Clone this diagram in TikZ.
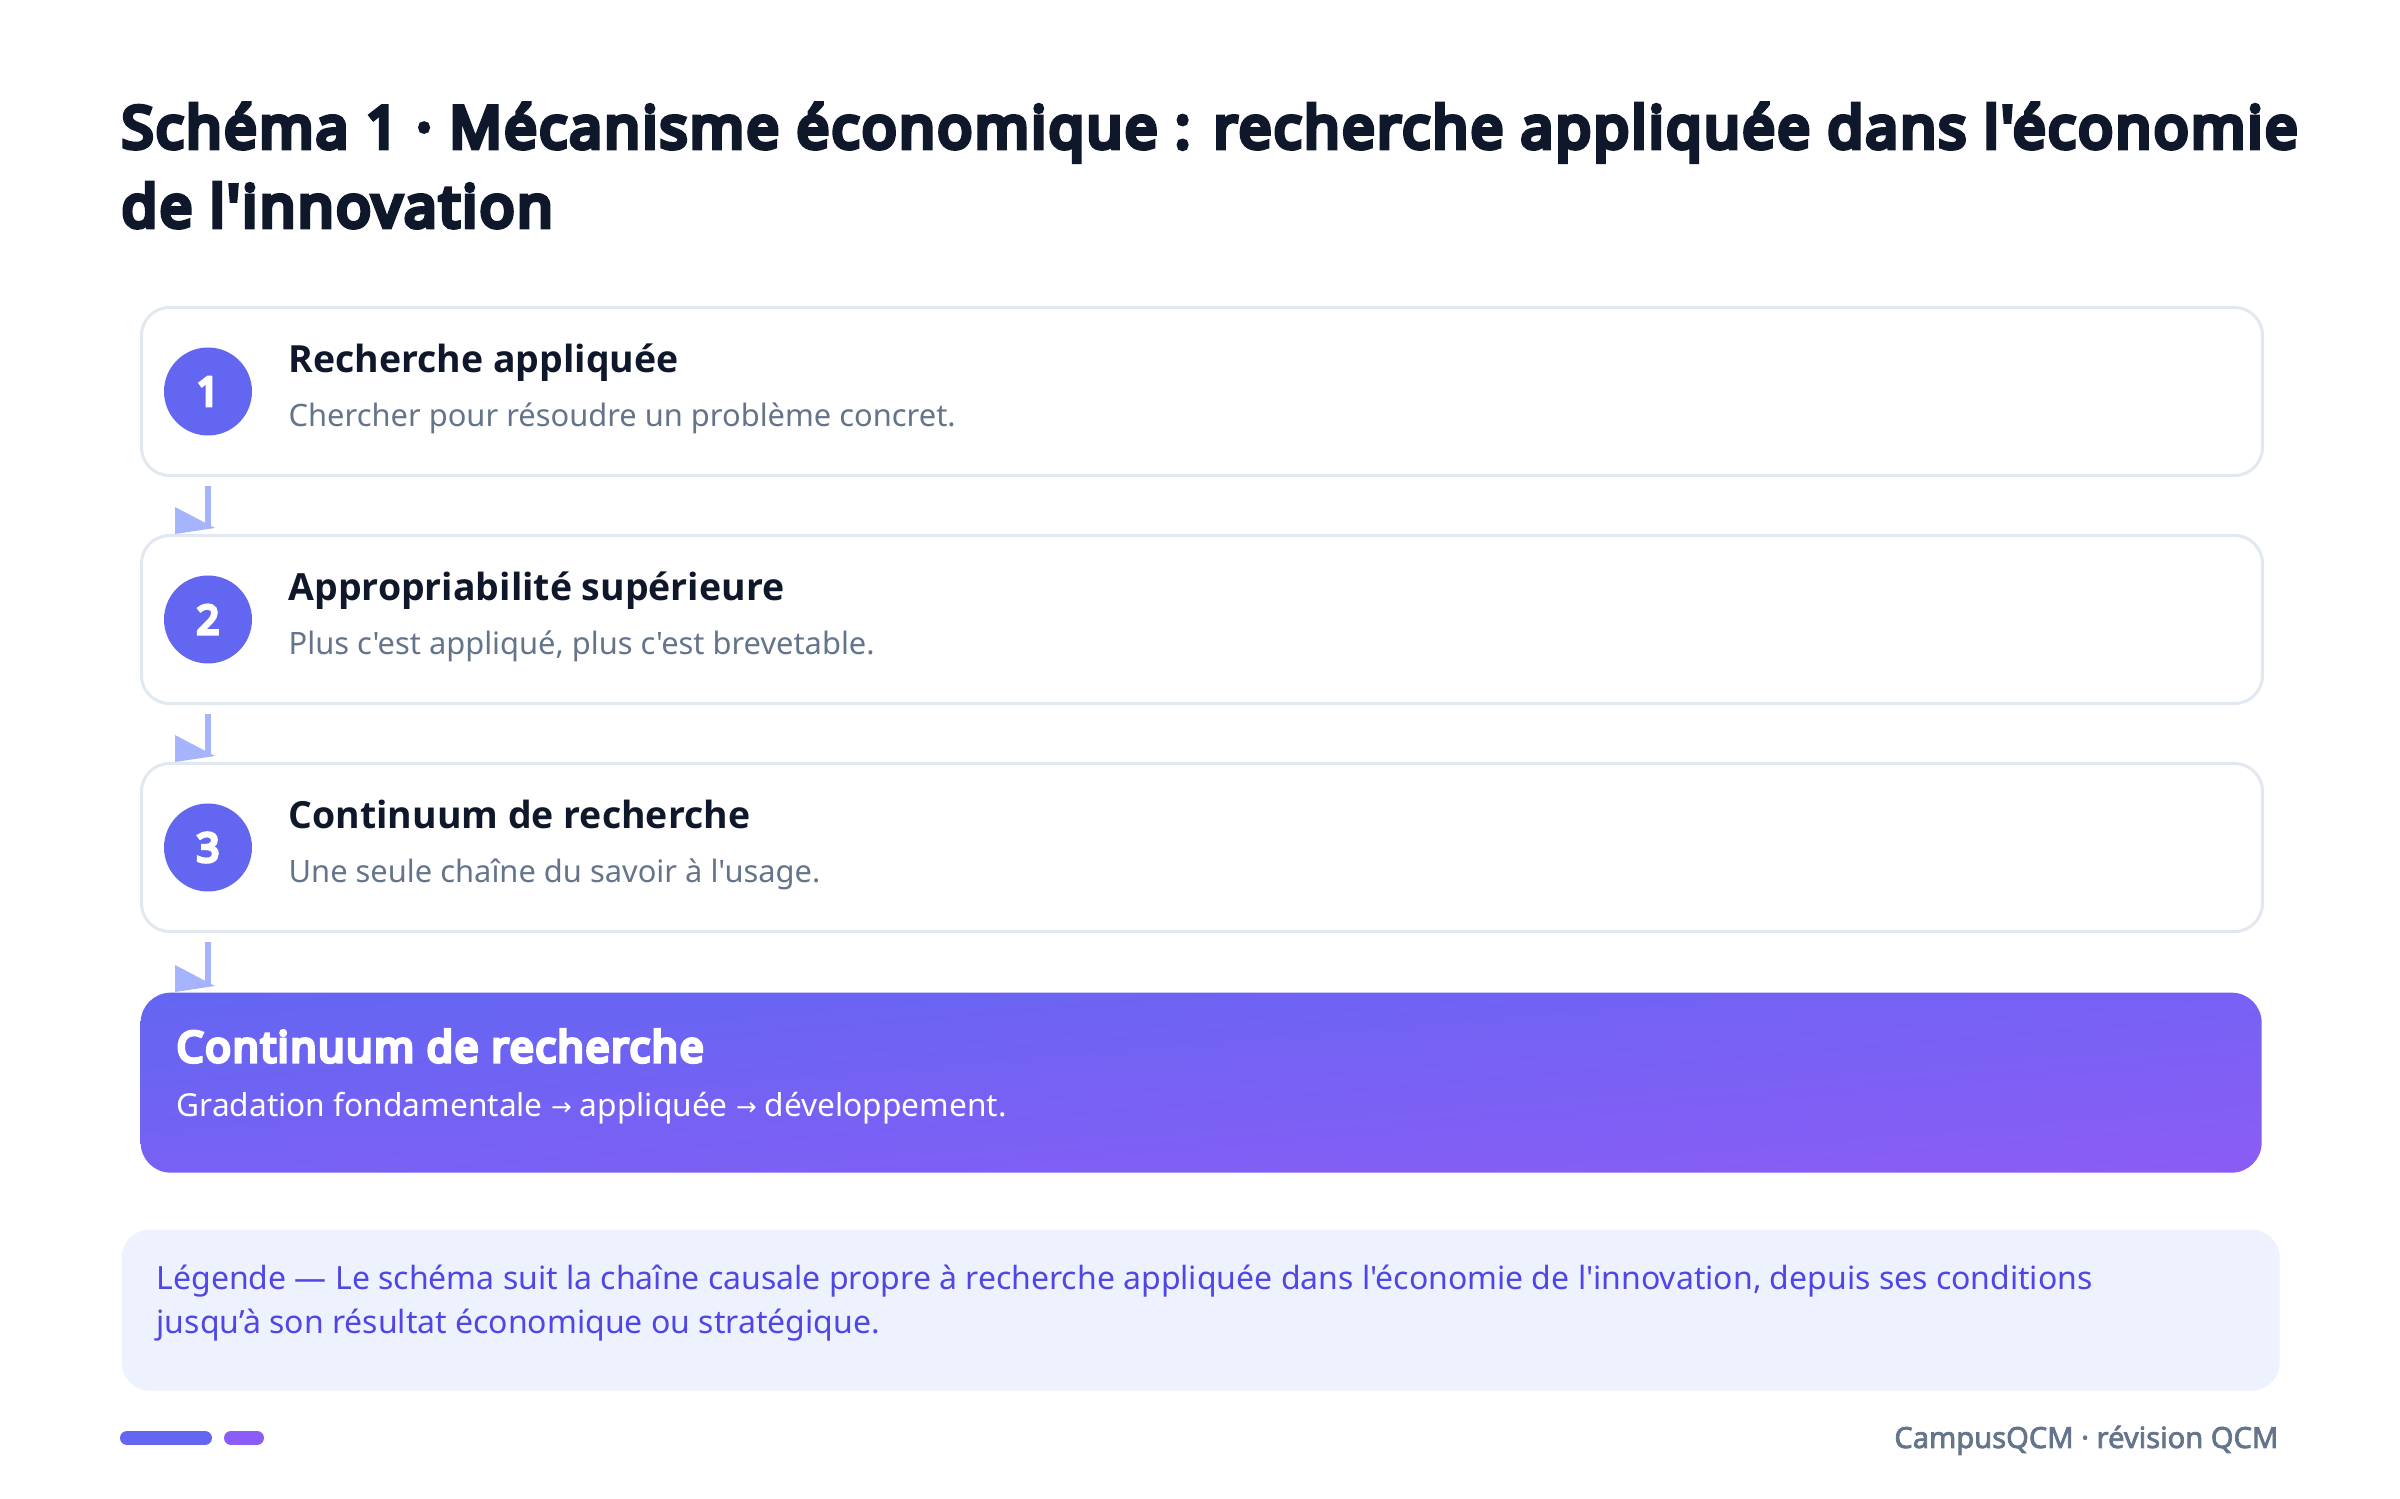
\documentclass[tikz,border=0pt]{standalone}
\usepackage{fontspec}
\newfontfamily\nsans{Noto Sans}
\newfontfamily\nsemi{Noto Sans}[FakeBold=2.5]
% bold face (headings)
\IfFontExistsTF{Noto Sans Bold}
  {\newfontfamily\nsansb{Noto Sans Bold}}
  {\IfFontExistsTF{Open Sans Bold}
     {\newfontfamily\nsansb{Open Sans Bold}}
     {\newfontfamily\nsansb{Noto Sans}[FakeBold=4.5]}}
% heavy face (title, final heading, numbers)
\IfFontExistsTF{Noto Sans Black}
  {\newfontfamily\nheavy{Noto Sans Black}}
  {\IfFontExistsTF{Noto Sans ExtraBold}
     {\newfontfamily\nheavy{Noto Sans ExtraBold}}
     {\IfFontExistsTF{Open Sans ExtraBold}
        {\newfontfamily\nheavy{Open Sans ExtraBold}}
        {\IfFontExistsTF{Noto Sans Bold}
           {\newfontfamily\nheavy{Noto Sans Bold}[FakeBold=2]}
           {\newfontfamily\nheavy{Noto Sans}[FakeBold=8, LetterSpace=4]}}}}
\newfontfamily\djv{DejaVu Sans}
\usetikzlibrary{calc,shadings}
\definecolor{ink}{HTML}{0F172A}
\definecolor{muted}{HTML}{64748B}
\definecolor{bordc}{HTML}{E2E8F0}
\definecolor{indigoA}{HTML}{6366F1}
\definecolor{violetA}{HTML}{8B5CF6}
\definecolor{midA}{HTML}{7761F4}
\definecolor{arrowc}{HTML}{A5B4FC}
\definecolor{legfill}{HTML}{EEF2FF}
\definecolor{legtext}{HTML}{4F46E5}
\newcommand\fpx[1]{\fontsize{\fpeval{#1*0.3}pt}{\fpeval{#1*0.36}pt}\selectfont}
\makeatletter
\newcommand\arr{{\djv\fontsize{\fpeval{0.78*\f@size}}{0}\selectfont\raisebox{0.08em}{→}}}
\makeatother
\newlength\fitlen
% #1 macro, #2 target width in px, #3 font switch, #4 text  -> #1 = font size in px
\newcommand\setfit[4]{%
  \settowidth\fitlen{#3\fontsize{10pt}{12pt}\selectfont #4}%
  \edef#1{\fpeval{10*#2/(\the\fitlen)}}}
\tikzset{
  stepbox/.style={draw=bordc, line width=0.9pt, fill=white, rounded corners=8.4pt,
    minimum width=636.3pt, minimum height=50.4pt, inner sep=0pt, anchor=north west},
  finalbox/.style={draw=none, rounded corners=9pt, upper left=indigoA, lower right=violetA,
    upper right=midA, lower left=midA,
    minimum width=636.3pt, minimum height=54pt, inner sep=0pt, anchor=north west},
  legendbox/.style={draw=none, fill=legfill, rounded corners=8.4pt,
    minimum width=647.4pt, minimum height=48.3pt, inner sep=0pt, anchor=north west},
  numc/.style={circle, fill=indigoA, minimum size=26.4pt, inner sep=0pt,
    text=white, font=\nheavy\fpx{40}},
  titlef/.style={inner sep=0pt, anchor=base west, text=ink, font=\nheavy\fpx{\tsz}},
  headf/.style={inner sep=0pt, anchor=base west, text=ink, font=\nsansb\fpx{\hsz}},
  subf/.style={inner sep=0pt, anchor=base west, text=muted, font=\nsans\fpx{\ssz}},
  fheadf/.style={inner sep=0pt, anchor=base west, text=white, font=\nheavy\fpx{\fhsz}},
  fsubf/.style={inner sep=0pt, anchor=base west, text=white, font=\nsans\fpx{\fssz}},
  legf/.style={inner sep=0pt, anchor=base west, text=legtext, font=\nsans\fpx{\lsz}},
  footf/.style={inner sep=0pt, anchor=base east, text=muted, font=\nsemi\fpx{\ftsz}},
  conn/.style={draw=arrowc, line width=1.8pt},
  arrhead/.style={fill=arrowc, draw=none},
}
\begin{document}
\setfit\tsz{2176}{\nheavy}{Schéma 1 · Mécanisme économique : recherche appliquée dans l'économie}%
\setfit\hsz{390}{\nsansb}{Recherche appliquée}%
\setfit\ssz{667}{\nsans}{Chercher pour résoudre un problème concret.}%
\setfit\fhsz{527}{\nheavy}{Continuum de recherche}%
\setfit\fssz{830}{\nsans}{Gradation fondamentale \arr{} appliquée \arr{} développement.}%
\setfit\lsz{1936}{\nsans}{Légende — Le schéma suit la chaîne causale propre à recherche appliquée dans l'économie de l'innovation, depuis ses conditions}%
\setfit\ftsz{384}{\nsemi}{CampusQCM · révision QCM}%
\begin{tikzpicture}[x=0.3pt, y=-0.3pt]
\useasboundingbox (0,0) rectangle (2400,1499);
\fill[white] (0,0) rectangle (2400,1499);

\node[titlef] (t1) at (121,148) {Schéma 1 · Mécanisme économique : recherche appliquée dans l'économie};
\node[titlef] (t2) at (121,227) {de l'innovation};

% step boxes
\node[stepbox] (b1) at (140,306) {};
\node[stepbox] (b2) at (140,534) {};
\node[stepbox] (b3) at (140,762) {};
\node[finalbox] (f) at (140,992) {};

\foreach \i/\h/\s in {1/Recherche appliquée/Chercher pour résoudre un problème concret.,
                      2/Appropriabilité supérieure/Plus c'est appliqué{,} plus c'est brevetable.,
                      3/Continuum de recherche/Une seule chaîne du savoir à l'usage.}{
  \node[numc] (c\i) at ($(b\i.west)+(68,0)$) {\i};
  \node[headf] (h\i) at ($(b\i.north west)+(148,67)$) {\h};
  \node[subf] (s\i) at ($(b\i.north west)+(148,121)$) {\s};
}

\node[fheadf] (fh) at ($(f.north west)+(36,70)$) {Continuum de recherche};
\node[fsubf] (fs) at ($(f.north west)+(36,125)$) {Gradation fondamentale \arr{} appliquée \arr{} développement.};

% connectors
\foreach \a/\b in {b1/b2, b2/b3, b3/f}{
  \draw[conn] ($(\a.south west)+(68,9)$) -- ($(\b.north west)+(68,-8)$);
  \fill[arrhead] ($(\b.north west)+(35,0)$) -- ($(\b.north west)+(35,-27)$) -- ($(\b.north west)+(75,-6)$) -- cycle;
}

% legend
\node[legendbox] (lg) at (121,1229) {};
\node[legf] (l1) at ($(lg.north west)+(35,61)$) {Légende — Le schéma suit la chaîne causale propre à recherche appliquée dans l'économie de l'innovation, depuis ses conditions};
\node[legf] (l2) at ($(lg.north west)+(35,105)$) {jusqu’à son résultat économique ou stratégique.};

% footer
\draw[indigoA, line width=4.2pt, line cap=round] (127,1438) -- (205,1438);
\draw[violetA, line width=4.2pt, line cap=round] (231,1438) -- (257,1438);
\node[footf] (ft) at (2279,1448) {CampusQCM · révision QCM};
\end{tikzpicture}
\end{document}
